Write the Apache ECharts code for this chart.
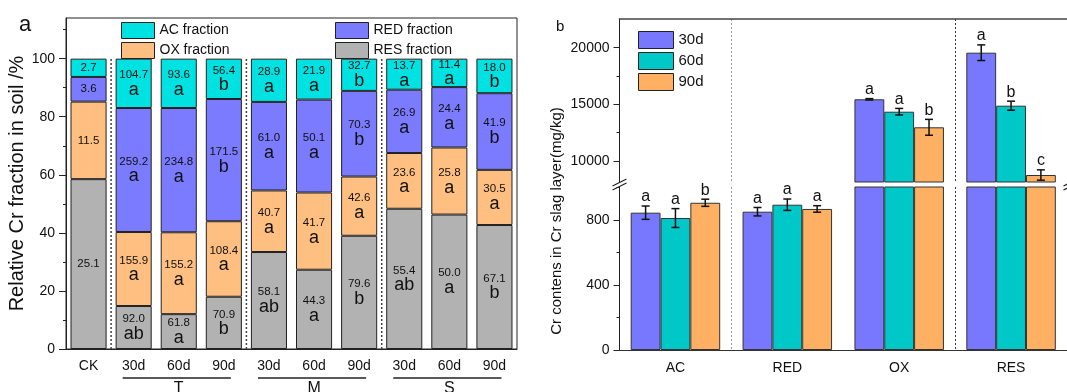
<!DOCTYPE html>
<html>
<head>
<meta charset="utf-8">
<script src="https://cdn.jsdelivr.net/npm/echarts@6/dist/echarts.min.js"></script>
<style>
  html, body { margin: 0; padding: 0; background: #fff; }
  #chart { width: 1067px; height: 392px; }
</style>
</head>
<body>
<div id="chart"></div>
<script>
// ---- panel a: relative Cr fractions in soil (%) ----
const soilCats = ['CK', '30d', '60d', '90d', '30d', '60d', '90d', '30d', '60d', '90d']
const resPct = [58.5, 14.8, 12.0, 18.0, 33.4, 27.3, 39.0, 48.3, 46.3, 42.7]
const oxPct = [26.7, 25.5, 28.2, 26.0, 21.2, 26.6, 20.4, 19.2, 23.1, 19.0]
const redPct = [8.5, 42.7, 42.8, 42.1, 30.5, 32.0, 29.5, 21.8, 20.8, 26.4]
const acPct = [6.3, 17.0, 17.0, 13.9, 14.9, 14.1, 11.1, 10.7, 9.8, 11.9]
// numbers and letters printed inside the segments
const resVal = [25.1, 92.0, 61.8, 70.9, 58.1, 44.3, 79.6, 55.4, 50.0, 67.1]
const oxVal = [11.5, 155.9, 155.2, 108.4, 40.7, 41.7, 42.6, 23.6, 25.8, 30.5]
const redVal = [3.6, 259.2, 234.8, 171.5, 61.0, 50.1, 70.3, 26.9, 24.4, 41.9]
const acVal = [2.7, 104.7, 93.6, 56.4, 28.9, 21.9, 32.7, 13.7, 11.4, 18.0]
const resLet = ['', 'ab', 'a', 'b', 'ab', 'a', 'b', 'ab', 'a', 'b']
const oxLet = ['', 'a', 'a', 'a', 'a', 'a', 'a', 'a', 'a', 'a']
const redLet = ['', 'a', 'a', 'b', 'a', 'a', 'b', 'a', 'a', 'b']
const acLet = ['', 'a', 'a', 'b', 'a', 'a', 'b', 'a', 'a', 'b']
const soilTicks = [0, 20, 40, 60, 80, 100]
const soilMinorTicks = [10, 30, 50, 70, 90, 110]

// ---- panel b: Cr contents in slag layer (mg/kg) ----
const slagCats = ['AC', 'RED', 'OX', 'RES']
const dayNames = ['30d', '60d', '90d']
const d30 = [845, 851, 15446, 19559]
const d60 = [812, 894, 14351, 14881]
const d90 = [906, 868, 12974, 8764]
const e30 = [41, 26, 60, 690]
const e60 = [58, 35, 290, 400]
const e90 = [22, 20, 700, 455]
const l30 = ['a', 'a', 'a', 'a']
const l60 = ['a', 'a', 'a', 'b']
const l90 = ['b', 'a', 'b', 'c']
const lowTicks = [0, 400, 800]
const lowMinorTicks = [200, 600, 1000]
const highTicks = [10000, 15000, 20000]
const highMinorTicks = [12500, 17500]

const FONT = 'Liberation Sans, Arial, sans-serif'
const INK = '#111'
const fracColors = { AC: '#00E2E2', RED: '#7B7BFF', OX: '#FFBF80', RES: '#B2B2B2' }
const dayColors = ['#7878FF', '#00C8C8', '#FFB062']

// break between the two value ranges of panel b
const LOW_MAX = 1003
const HIGH_MIN = 8147
const HIGH_MAX = 22533

const chart = echarts.init(document.getElementById('chart'))

function segLabel(vals, lets) {
  return {
    show: true,
    position: 'inside',
    color: INK,
    formatter: p => {
      const v = vals[p.dataIndex].toFixed(1)
      const l = lets[p.dataIndex]
      return l ? `{v|${v}}\n{l|${l}}` : `{v|${v}}`
    },
    rich: {
      v: { fontSize: 11.5, lineHeight: 13, color: INK, fontFamily: FONT },
      l: { fontSize: 18, lineHeight: 17, color: INK, fontFamily: FONT }
    }
  }
}

function stackBar(name, data, vals, lets) {
  return {
    name, type: 'bar', stack: 'frac', xAxisIndex: 0, yAxisIndex: 0,
    data, barWidth: '80%',
    itemStyle: { color: fracColors[name.split(' ')[0]], borderColor: '#222', borderWidth: 1 },
    label: segLabel(vals, lets)
  }
}

const dayVals = [d30, d60, d90]
const dayErrs = [e30, e60, e90]
const dayLets = [l30, l60, l90]

function dayBars(xIdx, yIdx) {
  return dayNames.map((n, i) => ({
    name: n, type: 'bar', xAxisIndex: xIdx, yAxisIndex: yIdx,
    data: dayVals[i], barCategoryGap: '20%', barGap: '0%',
    itemStyle: { color: dayColors[i], borderColor: '#333', borderWidth: 1 }
  }))
}

function errSeries(xIdx, yIdx, lo, hi) {
  const data = []
  dayVals.forEach((vals, di) => vals.forEach((v, ci) => data.push([ci, v, dayErrs[di][ci], di])))
  return {
    type: 'custom', xAxisIndex: xIdx, yAxisIndex: yIdx, data, z: 5, silent: true,
    encode: { x: 0, y: 1 },
    renderItem: (params, api) => {
      const ci = api.value(0), v = api.value(1), e = api.value(2), di = api.value(3)
      if (v < lo || v > hi) return null
      const bw = api.size([1, 0])[0] * 0.8 / 3
      const x = api.coord([ci, v])[0] + (di - 1) * bw
      const yt = api.coord([ci, v + e])[1]
      const yb = api.coord([ci, v - e])[1]
      const st = { stroke: INK, lineWidth: 1.5 }
      return {
        type: 'group',
        children: [
          { type: 'line', shape: { x1: x, y1: yt, x2: x, y2: yb }, style: st },
          { type: 'line', shape: { x1: x - 4, y1: yt, x2: x + 4, y2: yt }, style: st },
          { type: 'line', shape: { x1: x - 4, y1: yb, x2: x + 4, y2: yb }, style: st },
          { type: 'text', x, y: yt - 1, style: { text: dayLets[di][ci], fontSize: 16, fill: INK, align: 'center', verticalAlign: 'bottom', fontFamily: FONT } }
        ]
      }
    }
  }
}

function valueAxis(gridIndex, min, max, ticks, opts) {
  return Object.assign({
    gridIndex, type: 'value', min, max,
    axisLine: { show: true, lineStyle: { color: '#222', width: 1 } },
    axisTick: { show: true, length: 6, customValues: ticks, lineStyle: { color: '#222' } },
    axisLabel: { customValues: ticks, fontSize: 14, color: INK, margin: 10, formatter: v => String(v) },
    splitLine: { show: false }
  }, opts || {})
}

function minorAxis(gridIndex, min, max, ticks) {
  return {
    gridIndex, type: 'value', min, max, position: 'left',
    axisLine: { show: false },
    axisTick: { show: true, length: 3, customValues: ticks, lineStyle: { color: '#222' } },
    axisLabel: { show: false },
    splitLine: { show: false }
  }
}

const legendBase = {
  orient: 'vertical', padding: 0, itemGap: 3, icon: 'rect', selectedMode: false,
  textStyle: { fontSize: 14, color: INK, fontFamily: FONT },
  itemStyle: { borderColor: '#222', borderWidth: 1 }
}

const slagSplit = { show: true, interval: i => i === 1 || i === 3, lineStyle: { color: ['#999', '#333'], type: [2, 2], width: 1 } }

const option = {
  backgroundColor: '#fff',
  animation: false,
  textStyle: { fontFamily: FONT },
  title: [
    { text: 'a', left: 14, top: 9, textStyle: { fontSize: 22, fontWeight: 'normal', color: INK, fontFamily: FONT } },
    { text: 'b', left: 551, top: 14, textStyle: { fontSize: 15, fontWeight: 'normal', color: INK, fontFamily: FONT } }
  ],
  legend: [
    Object.assign({}, legendBase, { data: ['AC fraction', 'OX fraction'], left: 121, top: 22, itemWidth: 33, itemHeight: 16 }),
    Object.assign({}, legendBase, { data: ['RED fraction', 'RES fraction'], left: 335, top: 22, itemWidth: 33, itemHeight: 16 }),
    Object.assign({}, legendBase, { data: dayNames, left: 638, top: 31, itemWidth: 35, itemHeight: 17, textStyle: { fontSize: 15, color: INK, fontFamily: FONT } })
  ],
  grid: [
    { left: 66, top: 18, width: 451, height: 331, show: true, borderColor: '#222', borderWidth: 1, backgroundColor: 'transparent' },
    { left: 619.5, top: 187, width: 451, height: 163 },
    { left: 619.5, top: 19, width: 451, height: 163 }
  ],
  xAxis: [
    { gridIndex: 0, type: 'category', data: soilCats,
      axisLine: { lineStyle: { color: '#222' } },
      axisTick: { alignWithLabel: true, length: 6, lineStyle: { color: '#222' } },
      axisLabel: { fontSize: 14, color: INK, margin: 10, interval: 0 } },
    { gridIndex: 0, type: 'category', data: soilCats, position: 'bottom',
      axisLine: { show: false }, axisLabel: { show: false },
      axisTick: { length: 3, interval: 0, lineStyle: { color: '#222' } } },
    { gridIndex: 1, type: 'category', data: slagCats,
      axisLine: { lineStyle: { color: '#333' } },
      axisTick: { alignWithLabel: true, length: 6, lineStyle: { color: '#222' } },
      axisLabel: { fontSize: 14, color: INK, margin: 11 } },
    { gridIndex: 1, type: 'category', data: slagCats, position: 'bottom',
      axisLine: { show: false }, axisLabel: { show: false },
      axisTick: { length: 4, interval: 0, lineStyle: { color: '#222' } },
      splitLine: slagSplit },
    { gridIndex: 2, type: 'category', data: slagCats, position: 'top',
      axisLine: { show: true, lineStyle: { color: '#444', width: 1.5 } },
      axisTick: { show: false }, axisLabel: { show: false },
      splitLine: slagSplit }
  ],
  yAxis: [
    valueAxis(0, 0, 114, soilTicks, {
      name: 'Relative Cr fraction in soil /%', nameLocation: 'middle', nameGap: 34,
      nameTextStyle: { fontSize: 20, color: INK, fontFamily: FONT },
      axisTick: { show: true, length: 7, customValues: soilTicks, lineStyle: { color: '#222' } },
      axisLabel: { customValues: soilTicks, fontSize: 14, color: INK, margin: 11 }
    }),
    minorAxis(0, 0, 114, soilMinorTicks),
    valueAxis(1, 0, LOW_MAX, lowTicks),
    minorAxis(1, 0, LOW_MAX, lowMinorTicks),
    valueAxis(2, HIGH_MIN, HIGH_MAX, highTicks),
    minorAxis(2, HIGH_MIN, HIGH_MAX, highMinorTicks)
  ],
  series: [
    stackBar('RES fraction', resPct, resVal, resLet),
    stackBar('OX fraction', oxPct, oxVal, oxLet),
    stackBar('RED fraction', redPct, redVal, redLet),
    stackBar('AC fraction', acPct, acVal, acLet),
    ...dayBars(2, 2),
    ...dayBars(4, 4),
    errSeries(2, 2, 0, LOW_MAX),
    errSeries(4, 4, HIGH_MIN, HIGH_MAX)
  ]
}

chart.setOption(option)

// group brackets, group separators of panel a, and axis-break marks of panel b
const groups = [{ name: 'T', from: 1, to: 3 }, { name: 'M', from: 4, to: 6 }, { name: 'S', from: 7, to: 9 }]
const px = i => chart.convertToPixel({ xAxisIndex: 0 }, i)
const py = v => chart.convertToPixel({ yAxisIndex: 0 }, v)
const graphic = []
groups.forEach(g => {
  const sx = (px(g.from - 1) + px(g.from)) / 2
  graphic.push({ type: 'line', z: 10, shape: { x1: sx, y1: py(0), x2: sx, y2: py(100) }, style: { stroke: '#444', lineWidth: 1.5, lineDash: [2, 2] } })
  graphic.push({ type: 'line', shape: { x1: px(g.from) - 11, y1: 378, x2: px(g.to) + 7, y2: 378 }, style: { stroke: '#222', lineWidth: 1.5 } })
  graphic.push({ type: 'text', x: px(g.from + 1), y: 381, style: { text: g.name, fontSize: 16, fill: INK, align: 'center', verticalAlign: 'top', fontFamily: FONT } })
})
function breakMark(cx, cy) {
  graphic.push({ type: 'polygon', shape: { points: [[cx - 7, cy + 1.5], [cx + 7, cy - 5.5], [cx + 7, cy - 1.5], [cx - 7, cy + 5.5]] }, style: { fill: '#fff' } })
  graphic.push({ type: 'line', shape: { x1: cx - 7, y1: cy + 1.5, x2: cx + 7, y2: cy - 5.5 }, style: { stroke: '#222', lineWidth: 1.2 } })
  graphic.push({ type: 'line', shape: { x1: cx - 7, y1: cy + 5.5, x2: cx + 7, y2: cy - 1.5 }, style: { stroke: '#222', lineWidth: 1.2 } })
}
breakMark(619.5, 184.5)
breakMark(1070.5, 184.5)
graphic.push({
  type: 'text', x: 557, y: 221, rotation: Math.PI / 2,
  style: { text: 'Cr contens in Cr slag layer(mg/kg)', fontSize: 15, fill: INK, align: 'center', verticalAlign: 'middle', fontFamily: FONT }
})
chart.setOption({ graphic })

window.addEventListener('resize', () => chart.resize())
</script>
</body>
</html>
